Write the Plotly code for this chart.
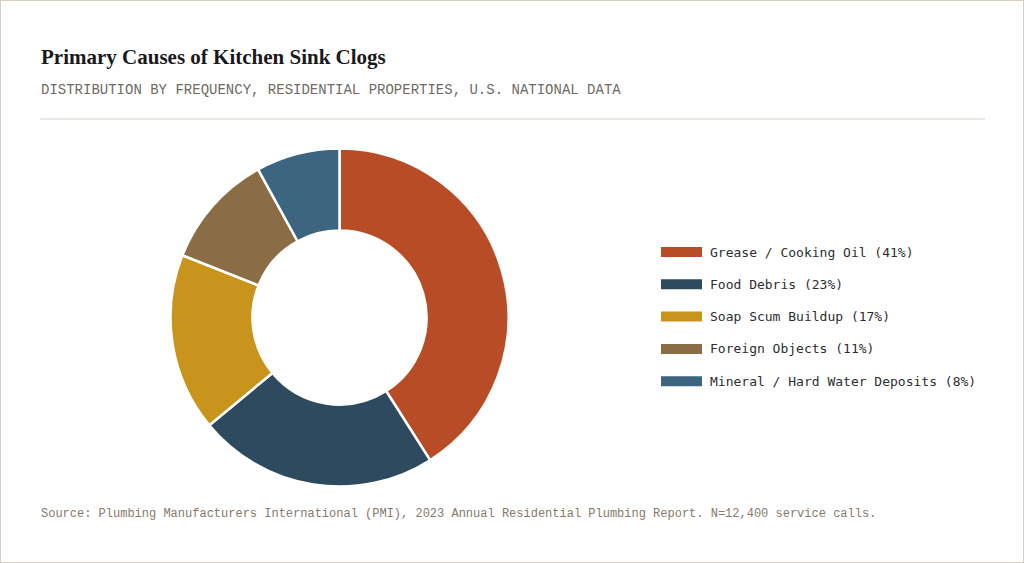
import plotly.graph_objects as go

# 데이터
causes = ['Grease / Cooking Oil', 'Food Debris', 'Soap Scum Buildup', 'Foreign Objects', 'Mineral / Hard Water Deposits']
shares = [41, 23, 17, 11, 8]
colors = ['#b84c27', '#2e4a5f', '#c9941b', '#8a6d45', '#3d6580']

W, H = 1024, 563

fig = go.Figure()

fig.add_trace(go.Pie(
    labels=causes, values=shares, hole=0.515, sort=False, direction='clockwise',
    rotation=0, textinfo='none', showlegend=False,
    marker=dict(colors=colors, line=dict(color='white', width=2.5)),
    domain=dict(x=[170.5 / W, 508.5 / W], y=[(H - 487) / H, (H - 148) / H]),
))

shapes = []
annotations = []

# 범례 (수동)
for i, (c, v, col) in enumerate(zip(causes, shares, colors)):
    yc = 252 + i * 32.3
    shapes.append(dict(type='rect', xref='paper', yref='paper',
                       x0=661 / W, x1=702 / W, y0=(H - yc - 5) / H, y1=(H - yc + 5) / H,
                       fillcolor=col, line=dict(width=0)))
    annotations.append(dict(x=708 / W, y=(H - yc) / H, xref='paper', yref='paper',
                            text=f'{c} ({v}%)', showarrow=False, xanchor='left', yanchor='middle',
                            font=dict(family='DejaVu Sans Mono', size=13, color='#2e2e2e')))

# 제목, 부제, 출처
annotations.append(dict(x=39 / W, y=(H - 57) / H, xref='paper', yref='paper',
                        text='<b>Primary Causes of Kitchen Sink Clogs</b>', showarrow=False,
                        xanchor='left', yanchor='middle',
                        font=dict(family='Liberation Serif', size=21, color='#1a1a1a')))
annotations.append(dict(x=39 / W, y=(H - 90) / H, xref='paper', yref='paper',
                        text='DISTRIBUTION BY FREQUENCY, RESIDENTIAL PROPERTIES, U.S. NATIONAL DATA',
                        showarrow=False, xanchor='left', yanchor='middle',
                        font=dict(family='Liberation Mono', size=14, color='#6f6a63')))
annotations.append(dict(x=39 / W, y=(H - 514) / H, xref='paper', yref='paper',
                        text='Source: Plumbing Manufacturers International (PMI), 2023 Annual Residential Plumbing Report. N=12,400 service calls.',
                        showarrow=False, xanchor='left', yanchor='middle',
                        font=dict(family='Liberation Mono', size=12, color='#857a6c')))

# 구분선, 테두리
shapes.append(dict(type='line', xref='paper', yref='paper', x0=40 / W, x1=985 / W,
                   y0=(H - 119) / H, y1=(H - 119) / H, line=dict(color='#d6d1c8', width=1)))
shapes.append(dict(type='rect', xref='paper', yref='paper', x0=0, x1=1, y0=0, y1=1,
                   line=dict(color='#d8cfc2', width=2), fillcolor='rgba(0,0,0,0)'))

fig.update_layout(
    width=W, height=H, margin=dict(l=0, r=0, t=0, b=0),
    paper_bgcolor='white', plot_bgcolor='white',
    shapes=shapes, annotations=annotations,
)

fig.write_html('out.html', config={'displayModeBar': False},
               post_script="document.body.style.margin='0';")
